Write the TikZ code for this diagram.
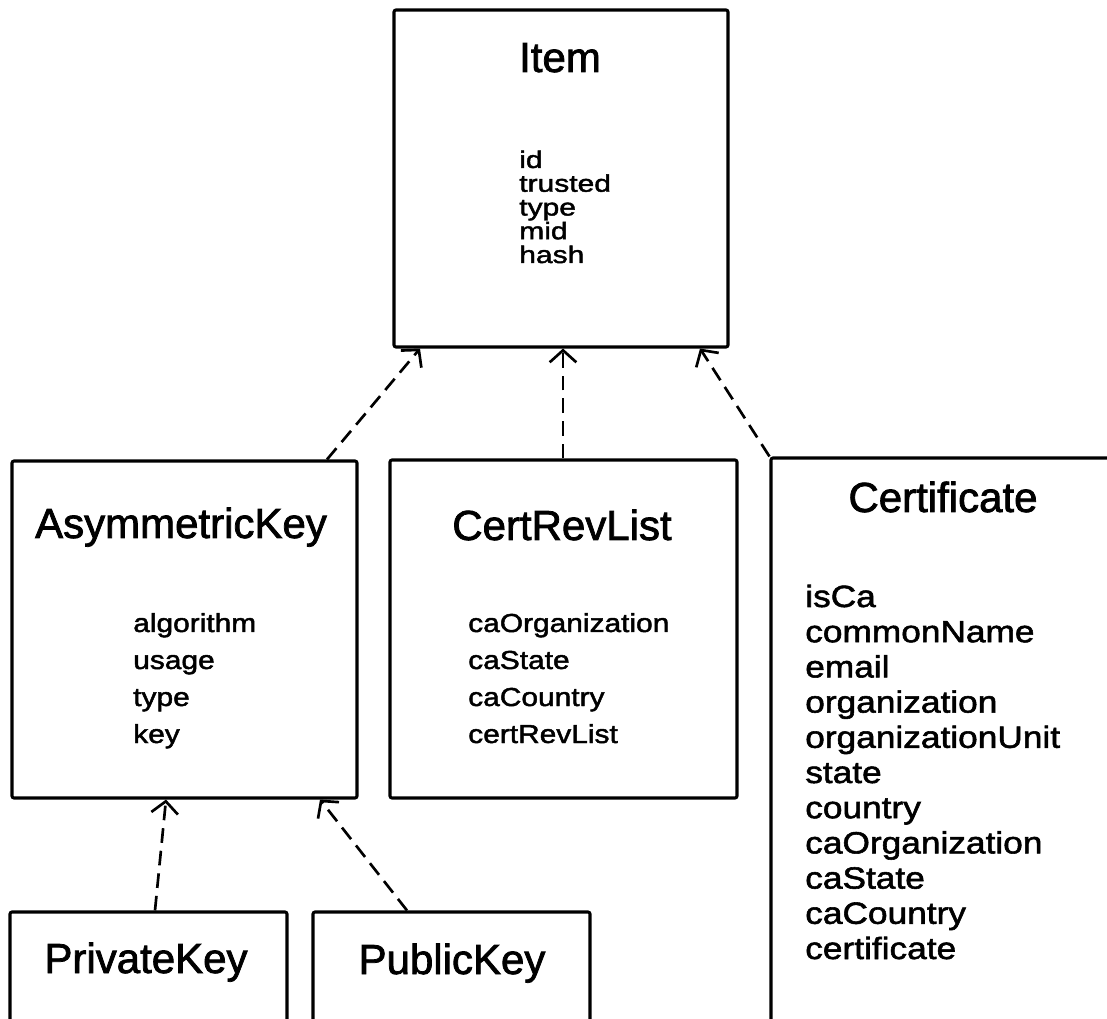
\documentclass[tikz,border=0pt]{standalone}
\usepackage{fontspec}
\setmainfont{Liberation Sans}
% regular shapes, slightly emboldened
\newfontfamily\titlefont[BoldFont={Liberation Sans},BoldFeatures={FakeBold=1.8}]{Liberation Sans}
\newfontfamily\attrfont[FakeStretch=1.15,BoldFont={Liberation Sans},BoldFeatures={FakeStretch=1.15,FakeBold=1.8}]{Liberation Sans}
\newfontfamily\narrowattrfont[FakeStretch=1.25,BoldFont={Liberation Sans},BoldFeatures={FakeStretch=1.25,FakeBold=1.8}]{Liberation Sans}
\usetikzlibrary{arrows.meta,fit}
\tikzset{
  umlbox/.style={draw, line width=2.3pt, rounded corners=1.5pt, inner sep=0pt},
  classname/.style={font=\titlefont\bfseries\fontsize{31.5pt}{36pt}\selectfont, inner sep=0pt, anchor=base},
  attr/.style={font=\attrfont\bfseries\fontsize{19.5pt}{22pt}\selectfont, inner sep=0pt, anchor=base west},
  tightattr/.style={attr, font=\narrowattrfont\bfseries\fontsize{18pt}{20pt}\selectfont},
  bigattr/.style={attr, font=\attrfont\bfseries\fontsize{23pt}{26pt}\selectfont},
  realize/.style={draw, line width=2pt, dash pattern=on 11pt off 6pt,
    -{Straight Barb[length=9pt,width=20pt,line width=2pt]}},
}
\begin{document}
\begin{tikzpicture}[x=0.75pt, y=-0.75pt]
\useasboundingbox (0,0) rectangle (1107,1019);
\begin{scope}
\clip (0,0) rectangle (1107,1019);

% class boxes
\node[umlbox, fit={(394,10) (728,347)}] (item) {};
\node[umlbox, fit={(12,461) (357,798)}] (asymk) {};
\node[umlbox, fit={(390,460) (737,798)}] (crl) {};
\node[umlbox, fit={(771,458) (1140,1050)}] (cert) {};
\node[umlbox, fit={(10,912) (287,1050)}] (privk) {};
\node[umlbox, fit={(313,912) (590,1050)}] (pubk) {};

% class names
\node[classname] (itemT) at (560,72) {Item};
\node[classname] (asymkT) at (181,538) {AsymmetricKey};
\node[classname] (crlT) at (562,540) {CertRevList};
\node[classname] (certT) at (943,512) {Certificate};
\node[classname] (privkT) at (146,973) {PrivateKey};
\node[classname] (pubkT) at (452,974) {PublicKey};

% attributes
\foreach \t [count=\i] in {id,trusted,type,mid,hash}
  \node[tightattr] (itemA\i) at (519,{168+23.75*(\i-1)}) {\t};
\foreach \t [count=\i] in {algorithm,usage,type,key}
  \node[attr] (asymkA\i) at (133,{632+37*(\i-1)}) {\t};
\foreach \t [count=\i] in {caOrganization,caState,caCountry,certRevList}
  \node[attr] (crlA\i) at (468,{632+37*(\i-1)}) {\t};
\foreach \t [count=\i] in {isCa,commonName,email,organization,organizationUnit,state,country,caOrganization,caState,caCountry,certificate}
  \node[bigattr] (certA\i) at (805,{607+35.2*(\i-1)}) {\t};

% realization links
\draw[realize] (asymk.north -| 327,0) -- (item.south -| 420,0);
\draw[realize] (crl.north -| 563,0) -- (item.south -| 563,0);
\draw[realize] (cert.north west) -- (item.south -| 700,0);
\draw[realize] (privk.north -| 155,0) -- (asymk.south -| 166,0);
\draw[realize] (pubk.north -| 407,0) -- (asymk.south -| 320,0);
\end{scope}
\end{tikzpicture}
\end{document}
